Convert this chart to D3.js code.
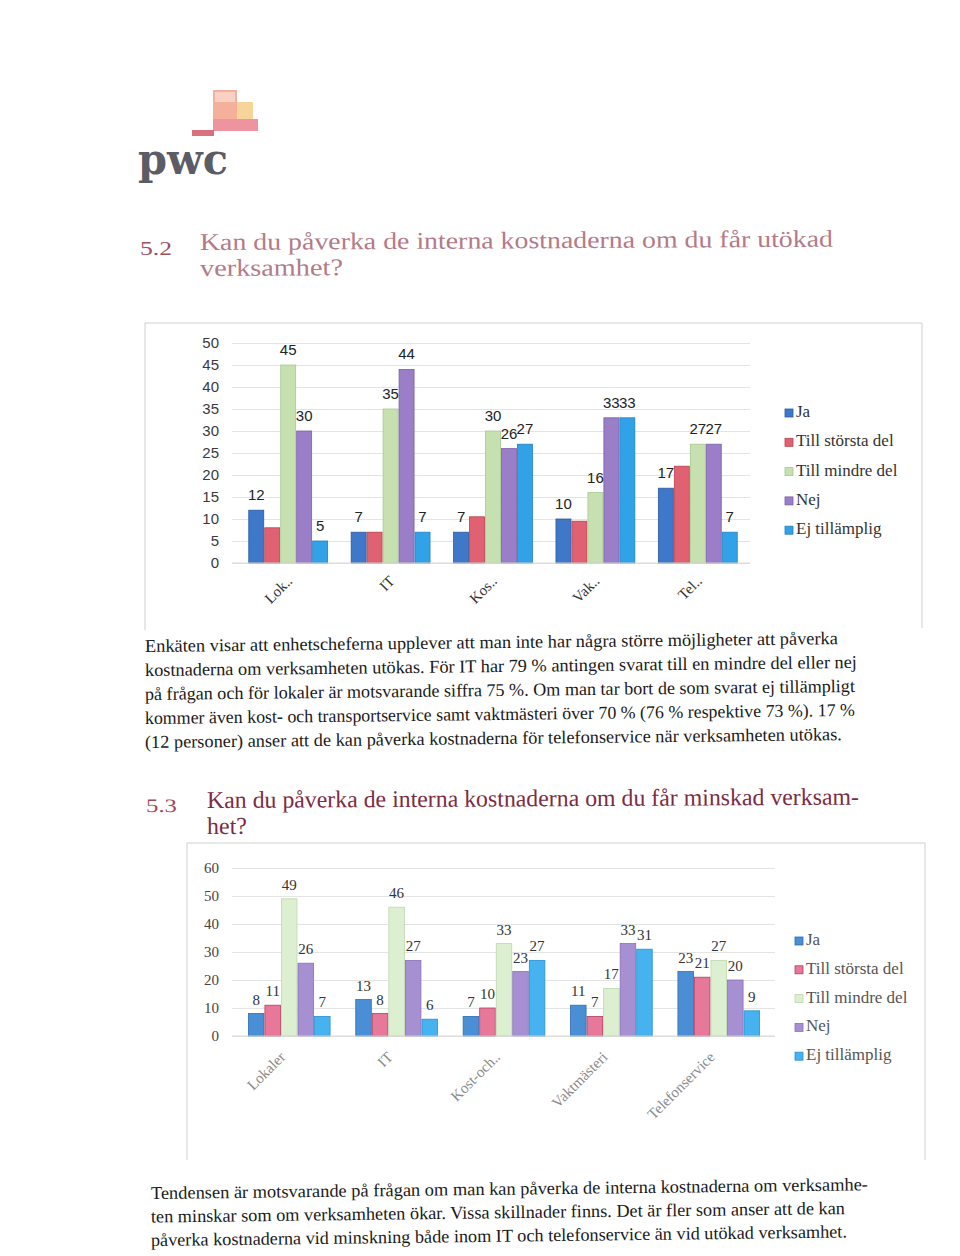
<!DOCTYPE html>
<html><head><meta charset="utf-8">
<script src="https://cdn.jsdelivr.net/npm/d3@7"></script>
<style>html,body{margin:0;padding:0;background:#fff}svg{display:block}</style>
</head><body>
<svg id="page" width="960" height="1256"></svg>
<script>
// ---------- data ----------
const series = ["Ja", "Till största del", "Till mindre del", "Nej", "Ej tillämplig"];
const cats1 = ["Lok..", "IT", "Kos..", "Vak..", "Tel.."];
const ja1      = [12, 7, 7, 10, 17];
const storsta1 = [8, 7, 10.5, 9.5, 22];
const mindre1  = [45, 35, 30, 16, 27];
const nej1     = [30, 44, 26, 33, 27];
const ej1      = [5, 7, 27, 33, 7];
const ticks1   = [0, 5, 10, 15, 20, 25, 30, 35, 40, 45, 50];
const labelled1 = [true, false, true, true, true];

const cats2 = ["Lokaler", "IT", "Kost-och..", "Vaktmästeri", "Telefonservice"];
const ja2      = [8, 13, 7, 11, 23];
const storsta2 = [11, 8, 10, 7, 21];
const mindre2  = [49, 46, 33, 17, 27];
const nej2     = [26, 27, 23, 33, 20];
const ej2      = [7, 6, 27, 31, 9];
const ticks2   = [0, 10, 20, 30, 40, 50, 60];

const legend1 = ["Ja", "Till största del", "Till mindre del", "Nej", "Ej tillämplig"];
const legend2 = ["Ja", "Till största del", "Till mindre del", "Nej", "Ej tillämplig"];

const colors1 = ["#3f78c8", "#e06272", "#c6e0b0", "#9a7ec8", "#32a2e8"];
const colors2 = ["#4a8ed6", "#e8789a", "#dcefd0", "#a690d2", "#46b2ef"];
const strokes1 = ["#2c5a9e", "#b84050", "#a8c890", "#7a60a8", "#2080c0"];
const strokes2 = ["#2f6cb0", "#b04060", "#bcd8b0", "#8870b8", "#2890d0"];

const svg = d3.select("#page");

// ---------- logo ----------
const logo = svg.append("g");
logo.append("rect").attr("x",213).attr("y",90).attr("width",24).attr("height",31).attr("fill","#f4b09a");
logo.append("rect").attr("x",215).attr("y",92).attr("width",20).attr("height",10).attr("fill","#f8d0c4");
logo.append("rect").attr("x",237).attr("y",102).attr("width",16).attr("height",19).attr("fill","#f6d49a");
logo.append("rect").attr("x",213).attr("y",119).attr("width",45).attr("height",12).attr("fill","#ee94a0");
logo.append("rect").attr("x",192).attr("y",130).attr("width",22).attr("height",6).attr("fill","#d8707e");
logo.append("text").attr("x",138).attr("y",174).text("pwc")
  .attr("font-family","DejaVu Serif").attr("font-weight","bold").attr("font-size",42)
  .attr("fill","#5c5c66").attr("textLength",90).attr("lengthAdjust","spacingAndGlyphs");

// ---------- helpers ----------
function line(txt, x, y, len, opts) {
  const t = svg.append("text").attr("x", x).attr("y", y).text(txt)
    .attr("font-family", opts.family || "Liberation Serif")
    .attr("font-size", opts.size || 17)
    .attr("fill", opts.fill || "#222");
  if (len) t.attr("textLength", len).attr("lengthAdjust", "spacingAndGlyphs");
  if (opts.rot) t.attr("transform", `rotate(${opts.rot},${x},${y})`);
  return t;
}

// ---------- section 5.2 title ----------
line("5.2", 140, 255, 32, {size: 19, fill: "#a0505c"});
line("Kan du påverka de interna kostnaderna om du får utökad", 200, 250, 633, {size: 24, fill: "#b47a88", rot: -0.3});
line("verksamhet?", 200, 276, 143, {size: 24, fill: "#b47a88", rot: -0.3});

// ---------- chart builder ----------
function chart(cfg) {
  const g = svg.append("g");
  g.append("path").attr("d", cfg.frame).attr("fill","none").attr("stroke","#cfcfcf").attr("stroke-width",1);
  const y = d3.scaleLinear().domain([0, cfg.ymax]).range([cfg.y0, cfg.y1]);
  const x = d3.scaleBand().domain(cfg.cats).range(cfg.xr).paddingInner(cfg.pi).paddingOuter(cfg.po);
  const xs = d3.scaleBand().domain(series).range([0, x.bandwidth()]).padding(0);
  // grid
  const grid = d3.axisLeft(y).tickValues(cfg.ticks).tickSize(-(cfg.gridR - cfg.gridL)).tickFormat("");
  const gg = g.append("g").attr("transform", `translate(${cfg.gridL},0)`).call(grid);
  gg.select(".domain").remove();
  gg.selectAll("line").attr("stroke","#e4e4e4");
  // tick labels
  const ax = d3.axisLeft(y).tickValues(cfg.ticks).tickSize(0).tickPadding(0);
  const ag = g.append("g").attr("transform", `translate(${cfg.tickX},0)`).call(ax);
  ag.select(".domain").remove();
  ag.selectAll("text").attr("font-family", cfg.tickFont).attr("font-size", 15).attr("fill", cfg.tickFill);
  // bars
  const data = cfg.cats.map((c, i) => cfg.vals.map((v, s) => ({c, s, v: v[i]})));
  const grp = g.selectAll(".grp").data(data).join("g").attr("transform", d => `translate(${x(d[0].c)},0)`);
  grp.selectAll("rect").data(d => d).join("rect")
    .attr("x", d => xs(series[d.s]) + 0.5).attr("width", xs.bandwidth() - 1)
    .attr("y", d => y(d.v)).attr("height", d => y(0) - y(d.v))
    .attr("fill", d => cfg.colors[d.s]).attr("stroke", d => cfg.strokes[d.s]).attr("stroke-width", 0.8);
  grp.selectAll("text.lab").data(d => d.filter(e => cfg.labelled[e.s])).join("text").attr("class","lab")
    .attr("x", d => xs(series[d.s]) + xs.bandwidth()/2).attr("y", d => y(d.v) - cfg.labGap)
    .attr("text-anchor","middle").attr("font-family", cfg.labFont).attr("font-size", 15).attr("fill", cfg.labFill)
    .text(d => Math.round(d.v));
  // baseline
  g.append("line").attr("x1", cfg.gridL).attr("x2", cfg.gridR).attr("y1", y(0)).attr("y2", y(0)).attr("stroke","#d8d8d8");
  // category labels
  g.selectAll("text.cat").data(cfg.cats).join("text").attr("class","cat")
    .attr("transform", c => `translate(${x(c) + x.bandwidth()/2 + cfg.catDx},${cfg.catY}) rotate(-45)`)
    .attr("text-anchor","end").attr("font-family", cfg.catFont).attr("font-size", 15).attr("fill", cfg.catFill)
    .text(c => c);
  // legend
  const lg = g.selectAll("g.leg").data(cfg.legend).join("g").attr("class","leg")
    .attr("transform", (d, i) => `translate(${cfg.legX},${cfg.legY + i * cfg.legStep})`);
  lg.append("rect").attr("x",0).attr("y",-8).attr("width",8).attr("height",8)
    .attr("fill", (d, i) => cfg.colors[i]).attr("stroke", (d, i) => cfg.strokes[i]).attr("stroke-width",0.8);
  lg.append("text").attr("x", 11).attr("y", 0).attr("font-family","Liberation Serif").attr("font-size", 17)
    .attr("fill", cfg.legFill).text(d => d);
}

chart({
  frame: "M145,630 L145,323 L922,323 L922,628",
  cats: cats1, vals: [ja1, storsta1, mindre1, nej1, ej1], ymax: 50, y0: 563, y1: 343,
  xr: [237, 749], pi: 0.22, po: 0.11, ticks: ticks1, gridL: 232, gridR: 750, tickX: 219,
  tickFont: "Liberation Sans", tickFill: "#3a3a3a", colors: colors1, strokes: strokes1, labelled: labelled1,
  labFont: "Liberation Sans", labFill: "#222", labGap: 10, catDx: 5, catY: 582, catFont: "Liberation Serif", catFill: "#333",
  legend: legend1, legX: 785, legY: 417, legStep: 29.3, legFill: "#333"
});

// ---------- body text 1 ----------
const body1 = [
  ["Enkäten visar att enhetscheferna upplever att man inte har några större möjligheter att påverka", 693],
  ["kostnaderna om verksamheten utökas.  För IT har 79 % antingen svarat till en mindre del eller nej", 712],
  ["på frågan och för lokaler är motsvarande siffra 75 %. Om man tar bort de som svarat ej tillämpligt", 710],
  ["kommer även kost- och transportservice samt vaktmästeri över 70 % (76 % respektive 73 %). 17 %", 710],
  ["(12 personer) anser att de kan påverka kostnaderna för telefonservice när verksamheten utökas.", 697]
];
body1.forEach((l, i) => line(l[0], 145, 652 + i * 24, l[1], {size: 18, fill: "#1a1a1a", rot: -0.65}));

// ---------- section 5.3 title ----------
line("5.3", 146, 812, 31, {size: 19, fill: "#a04a58", rot: -0.3});
line("Kan du påverka de interna kostnaderna om du får minskad verksam-", 207, 808, 652, {size: 24, fill: "#7c2c42", rot: -0.3});
line("het?", 207, 834, 40, {size: 24, fill: "#7c2c42", rot: -0.3});

chart({
  frame: "M187,1160 L187,843 L925,843 L925,1160",
  cats: cats2, vals: [ja2, storsta2, mindre2, nej2, ej2], ymax: 60, y0: 1036, y1: 868,
  xr: [235, 773], pi: 0.23, po: 0.12, ticks: ticks2, gridL: 232, gridR: 775, tickX: 219,
  tickFont: "Liberation Serif", tickFill: "#444", colors: colors2, strokes: strokes2, labelled: [true,true,true,true,true],
  labFont: "Liberation Serif", labFill: "#333", labGap: 9, catDx: -3, catY: 1058, catFont: "Liberation Serif", catFill: "#8a8a8a",
  legend: legend2, legX: 795, legY: 945, legStep: 28.8, legFill: "#555"
});

// ---------- body text 2 ----------
const body2 = [
  ["Tendensen är motsvarande på frågan om man kan påverka de interna kostnaderna om verksamhe-", 717],
  ["ten minskar som om verksamheten ökar. Vissa skillnader finns. Det är fler som anser att de kan", 694],
  ["påverka kostnaderna vid minskning både inom IT och telefonservice än vid utökad verksamhet.", 696]
];
body2.forEach((l, i) => line(l[0], 151, 1199 + i * 23.5, l[1], {size: 18, fill: "#1a1a1a", rot: -0.7}));
</script>
</body></html>
